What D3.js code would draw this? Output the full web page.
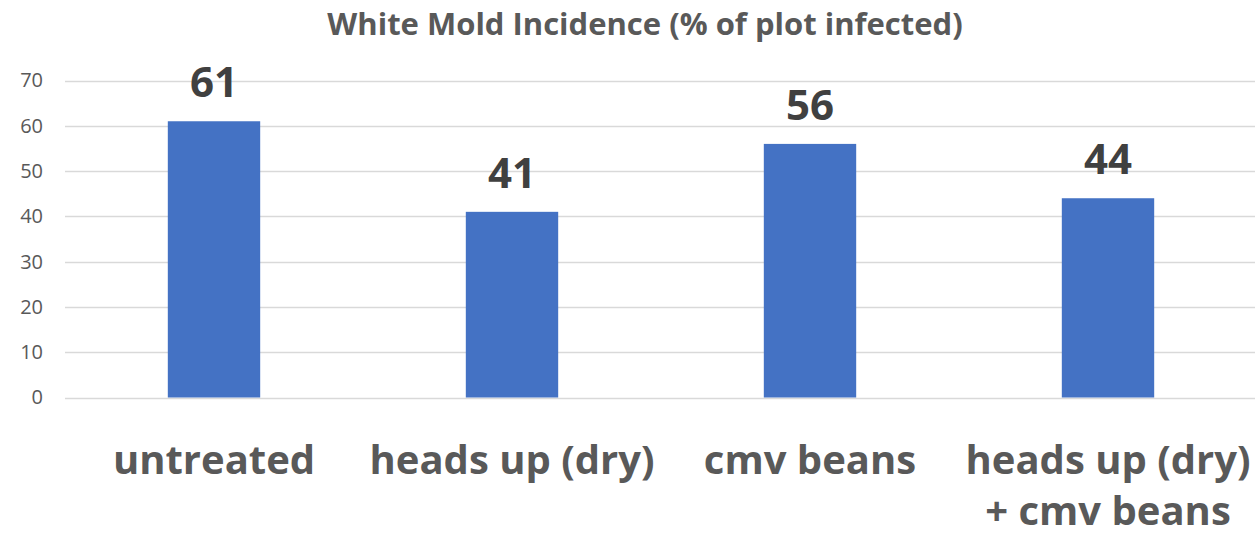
<!DOCTYPE html>
<html>
<head>
<meta charset="utf-8">
<script src="https://cdn.jsdelivr.net/npm/d3@7"></script>
<style>
  body { margin: 0; background: #fff; }
  text { font-family: "Open Sans", "Noto Sans", sans-serif; }
</style>
</head>
<body>
<div id="chart"></div>
<script>
// chart data
const categories = ["untreated", "heads up (dry)", "cmv beans", "heads up (dry)\n+ cmv beans"];
const incidence = [61, 41, 56, 44];
const yTicks = [0, 10, 20, 30, 40, 50, 60, 70];
const chartTitle = "White Mold Incidence (% of plot infected)";

const width = 1255, height = 536;
const margin = {top: 80, right: -2, bottom: 139, left: 65};

const svg = d3.select("#chart").append("svg")
  .attr("width", width)
  .attr("height", height);

const x = d3.scaleBand()
  .domain(categories)
  .range([margin.left, width - margin.right])
  .paddingInner(0.69)
  .paddingOuter(0.345);

const y = d3.scaleLinear()
  .domain([0, 70])
  .range([height - margin.bottom + 0.5, margin.top + 0.5]);

// gridlines
svg.append("g")
  .selectAll("line")
  .data(yTicks)
  .join("line")
  .attr("x1", margin.left)
  .attr("x2", width)
  .attr("y1", d => Math.round(y(d)) + 0.5)
  .attr("y2", d => Math.round(y(d)) + 0.5)
  .attr("stroke", "#d9d9d9")
  .attr("stroke-width", 1.3);

// y axis labels
const yAxis = d3.axisLeft(y).tickValues(yTicks).tickSize(0).tickPadding(0);
const yG = svg.append("g")
  .attr("transform", "translate(43,0)")
  .call(yAxis);
yG.select(".domain").remove();
yG.selectAll("text")
  .attr("fill", "#595959")
  .style("font-size", "20px")
  .style("font-family", "'Open Sans', sans-serif");

// bars
svg.append("g")
  .selectAll("rect")
  .data(incidence)
  .join("rect")
  .attr("x", (d, i) => x(categories[i]))
  .attr("width", x.bandwidth())
  .attr("y", d => y(d))
  .attr("height", d => y(0) - y(d))
  .attr("fill", "#4472c4");

// value labels
svg.append("g")
  .selectAll("text")
  .data(incidence)
  .join("text")
  .attr("x", (d, i) => x(categories[i]) + x.bandwidth() / 2)
  .attr("y", d => y(d) - 24)
  .attr("text-anchor", "middle")
  .attr("fill", "#404040")
  .style("font-size", "42px")
  .style("font-weight", "bold")
  .text(d => d);

// category labels
const catG = svg.append("g")
  .selectAll("text")
  .data(categories)
  .join("text")
  .attr("x", d => x(d) + x.bandwidth() / 2)
  .attr("y", 474)
  .attr("text-anchor", "middle")
  .attr("fill", "#595959")
  .style("font-size", "40px")
  .style("font-weight", "bold");

catG.selectAll("tspan")
  .data(d => d.split("\n"))
  .join("tspan")
  .attr("x", function() { return d3.select(this.parentNode).attr("x"); })
  .attr("dy", (d, i) => i === 0 ? 0 : 51)
  .text(d => d);

// title
svg.append("text")
  .attr("x", 645)
  .attr("y", 35)
  .attr("text-anchor", "middle")
  .attr("fill", "#595959")
  .style("font-size", "31px")
  .style("font-weight", "bold")
  .text(chartTitle);
</script>
</body>
</html>
